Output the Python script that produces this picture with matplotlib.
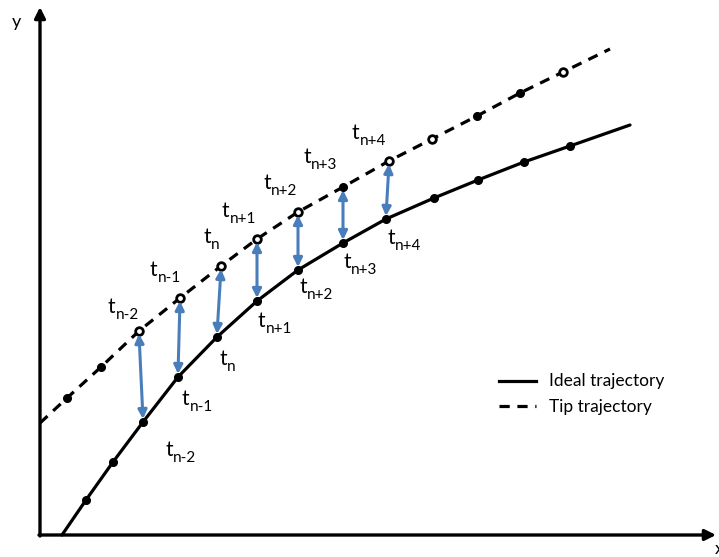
import matplotlib

matplotlib.use("Agg")
import matplotlib.pyplot as plt

plt.rcParams["font.family"] = ["Lato", "DejaVu Sans"]

# diagram drawn in pixel space of the original picture (y grows downward)
ideal_x = [62, 86, 113, 143, 178, 217, 257, 298, 343, 386, 434, 478, 524, 570, 630]
ideal_y = [535, 500, 462, 422, 377, 337, 301, 270, 243, 219, 198, 180, 162, 146, 125]
tip_x = [40, 67, 101, 139, 180, 221, 257, 298, 343, 389, 432, 477, 520, 563, 610]
tip_y = [423, 398, 367, 331, 298, 266, 239, 212, 187, 161, 139, 116, 93, 72, 49]

# which points carry the t labels (indices into the arrays above)
ideal_lab_idx = [3, 4, 5, 6, 7, 8, 9]
tip_lab_idx = [3, 4, 5, 6, 7, 8, 9]
subs = ["n-2", "n-1", "n", "n+1", "n+2", "n+3", "n+4"]
tip_hollow = [3, 4, 5, 6, 7, 9, 10, 13]

BLUE = "#4a7ebb"

fig = plt.figure(figsize=(7.19, 5.57), dpi=100)
ax = fig.add_axes([0, 0, 1, 1])
ax.set_xlim(0, 719)
ax.set_ylim(557, 0)
ax.axis("off")


def t_label(x, y, sub):
    # x, y = left edge / baseline of the "t"
    ax.text(x, y, "t", fontsize=15, ha="left", va="baseline")
    ax.text(x + 8, y + 6, sub, fontsize=11, ha="left", va="baseline")


# axes with arrow heads
ax.annotate("", xy=(40, 7), xytext=(40, 536),
            arrowprops=dict(arrowstyle="-|>", color="black", lw=2.4,
                            mutation_scale=16, shrinkA=0, shrinkB=0))
ax.annotate("", xy=(716, 535), xytext=(39, 535),
            arrowprops=dict(arrowstyle="-|>", color="black", lw=2.4,
                            mutation_scale=16, shrinkA=0, shrinkB=0))
ax.text(16, 22, "y", fontsize=13, ha="center", va="center")
ax.text(719, 549, "x", fontsize=13, ha="center", va="center")

# trajectories
ax.plot(ideal_x, ideal_y, color="black", lw=2.3, solid_capstyle="round")
ax.plot(tip_x, tip_y, color="black", lw=2.3, dashes=(3.2, 2.4))

ax.plot(ideal_x[1:-1], ideal_y[1:-1], "o", color="black", ms=5.5, ls="none")
for i in range(1, len(tip_x) - 1):
    if i in tip_hollow:
        ax.plot(tip_x[i], tip_y[i], "o", ms=5.5, mfc="white", mec="black", mew=2.0)
    else:
        ax.plot(tip_x[i], tip_y[i], "o", ms=5.5, color="black")

# double arrows between tip and ideal points
for it, ii in zip(tip_lab_idx, ideal_lab_idx):
    ax.annotate("", xy=(ideal_x[ii], ideal_y[ii] - 3), xytext=(tip_x[it], tip_y[it] + 3),
                arrowprops=dict(arrowstyle="<|-|>", color=BLUE, lw=2.2,
                                mutation_scale=13, shrinkA=0, shrinkB=0))

# labels: offsets of the "t" baseline-left from its point
tip_off = [(-31, -18), (-30, -22), (-18, -23), (-35, -22), (-35, -23), (-40, -24), (-37, -22)]
ideal_off = [(22, 34), (4, 28), (2, 28), (1, 26), (1, 23), (0, 25), (1, 25)]
for k, s in enumerate(subs):
    it = tip_lab_idx[k]
    ii = ideal_lab_idx[k]
    t_label(tip_x[it] + tip_off[k][0], tip_y[it] + tip_off[k][1], s)
    t_label(ideal_x[ii] + ideal_off[k][0], ideal_y[ii] + ideal_off[k][1], s)

# legend
ax.plot([499, 536], [381, 381], color="black", lw=2.3)
ax.plot([499, 536], [406, 406], color="black", lw=2.3, dashes=(3.2, 2.4))
ax.text(549, 381, "Ideal trajectory", fontsize=12.5, va="center")
ax.text(549, 407, "Tip trajectory", fontsize=12.5, va="center")

fig.savefig("out.png", dpi=100)
